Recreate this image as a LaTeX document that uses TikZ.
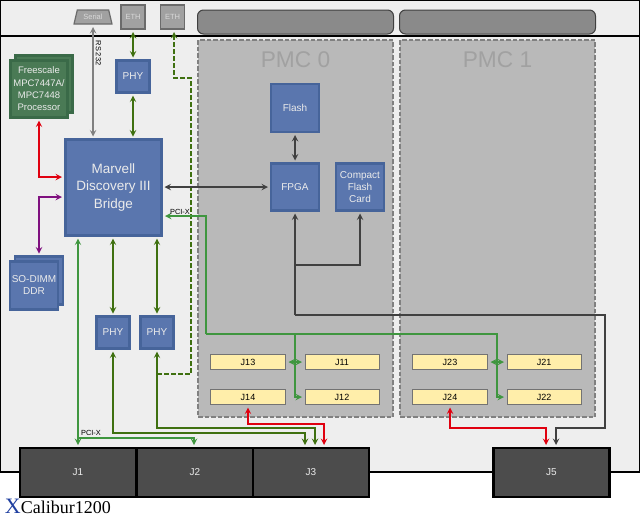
\documentclass[tikz,border=0pt]{standalone}
\usepackage{fontspec}
\usepackage{tikz}
\usetikzlibrary{shapes.geometric}
\setmainfont{Liberation Sans}
\newfontfamily\titlefont{Liberation Serif}
\definecolor{boardgray}{HTML}{EEEEEE}
\definecolor{pmcgray}{HTML}{B9B9B9}
\definecolor{blockblue}{HTML}{5A76AE}
\definecolor{blockedge}{HTML}{46649A}
\definecolor{cpugreen}{HTML}{4A7A55}
\definecolor{cpuedge}{HTML}{3A6A48}
\definecolor{headeryellow}{HTML}{FFEEAA}
\definecolor{olivebus}{HTML}{3F7010}
\definecolor{pcibus}{HTML}{3F963F}
\definecolor{redbus}{HTML}{E0000F}
\definecolor{purplebus}{HTML}{7F107F}
\definecolor{darkbus}{HTML}{404040}
\definecolor{titleblue}{HTML}{1F3FA0}

\begin{document}
\begin{tikzpicture}[x=1pt,y=-1pt,>=stealth,
  every node/.style={inner sep=0pt,outer sep=0pt,align=center},
  main node/.style={rectangle,fill=blockblue,draw=blockedge,line width=2.2pt,text=white!92!black,font=\fontsize{10}{12}\selectfont},
  cpu node/.style={main node,fill=cpugreen,draw=cpuedge,font=\fontsize{9.5}{12.3}\selectfont},
  conn node/.style={rectangle,fill=black!70,draw=black,line width=2.2pt,text=white!92!black,minimum width=116pt,minimum height=49pt,font=\fontsize{10}{12}\selectfont},
  head node/.style={rectangle,fill=headeryellow,draw=black!55,line width=1pt,minimum height=15pt,font=\fontsize{9}{11}\selectfont},
  port node/.style={rectangle,fill=black!37,draw=black!58,line width=1.2pt,text=white!85!black,font=\fontsize{7.5}{9}\selectfont},
  slot node/.style={rectangle,rounded corners=6pt,fill=black!46,draw=black!75,line width=1pt,minimum width=196pt,minimum height=24pt},
  pmc node/.style={rectangle,fill=pmcgray,draw=black!50,dash pattern=on 4.5pt off 2pt,line width=2.4pt,minimum width=195pt,minimum height=377pt},
  pmc text/.style={text=black!37,font=\fontsize{22.7}{26}\selectfont},
  small text/.style={font=\fontsize{7.4}{9}\selectfont,text=black},
  bus/.style={line width=1.8pt,shorten >=3pt,shorten <=3pt},
  eth bus/.style={bus,color=olivebus},
  pci bus/.style={bus,color=pcibus},
  red bus/.style={bus,color=redbus},
  purple bus/.style={bus,color=purplebus},
  dark bus/.style={bus,color=darkbus},
  gray bus/.style={bus,color=black!50}]

  \useasboundingbox (0,0) rectangle (640,517);

  % board
  \draw[fill=boardgray,line width=1.2pt] (0.5,0.5) rectangle (639.5,472);
  \draw[line width=1.2pt] (0.5,36) -- (639.5,36);

  % front panel
  \node[port node,trapezium,trapezium left angle=70,trapezium right angle=70,trapezium stretches=true,minimum width=38pt,minimum height=14pt] (serial) at (93,17) {Serial};
  \node[port node,minimum width=24pt,minimum height=24pt] (eth0) at (133,17) {ETH};
  \node[port node,minimum width=24pt,minimum height=24pt] (eth1) at (172.5,17) {ETH};
  \node[slot node] (slot0) at (295.5,22) {};
  \node[slot node] (slot1) at (497.5,22) {};

  % mezzanine sites
  \node[pmc node] (pmc0) at (295.5,228.5) {};
  \node[pmc node] (pmc1) at (497.5,228.5) {};
  \node[pmc text] (pmc0t) at (295.5,60) {PMC 0};
  \node[pmc text] (pmc1t) at (497.5,60) {PMC 1};

  % blocks
  \node[cpu node,minimum width=57pt,minimum height=57pt] (cpub) at (44,84) {};
  \node[cpu node,minimum width=57pt,minimum height=57pt] (cpu) at (39,89) {Freescale\\MPC7447A/\\MPC7448\\Processor};
  \node[main node,minimum width=96pt,minimum height=96pt,font=\fontsize{13.5}{17.5}\selectfont] (mv) at (113.5,187.5) {Marvell\\Discovery III\\Bridge};
  \node[main node,minimum width=33pt,minimum height=32pt] (phy0) at (133,76.5) {PHY};
  \node[main node,minimum width=48pt,minimum height=48pt] (flash) at (295,108) {Flash};
  \node[main node,minimum width=48pt,minimum height=47pt] (fpga) at (295,187) {FPGA};
  \node[main node,minimum width=48pt,minimum height=47pt] (cf) at (360,187) {Compact\\Flash\\Card};
  \node[main node,minimum width=48pt,minimum height=48pt] (dimmb) at (39,280.5) {};
  \node[main node,minimum width=48pt,minimum height=48pt] (dimm) at (34,285.5) {SO-DIMM\\DDR};
  \node[main node,minimum width=33pt,minimum height=32pt] (phy1) at (113,332.5) {PHY};
  \node[main node,minimum width=33pt,minimum height=32pt] (phy2) at (157,332.5) {PHY};

  % headers
  \node[head node,minimum width=75pt] (j13) at (248,362) {J13};
  \node[head node,minimum width=75pt] (j14) at (248,397) {J14};
  \node[head node,minimum width=74pt] (j11) at (342,362) {J11};
  \node[head node,minimum width=74pt] (j12) at (342,397) {J12};
  \node[head node,minimum width=75pt] (j23) at (450,362) {J23};
  \node[head node,minimum width=75pt] (j24) at (450,397) {J24};
  \node[head node,minimum width=74pt] (j21) at (544,362) {J21};
  \node[head node,minimum width=74pt] (j22) at (544,397) {J22};

  % backplane connectors
  \node[conn node] (j1) at (78,472.5) {J1};
  \node[conn node] (j2) at (195,472.5) {J2};
  \node[conn node] (j3) at (311,472.5) {J3};
  \node[conn node] (j5) at (551.5,472.5) {J5};

  % ends and bends of the buses
  \coordinate (mvcpu) at (65,177);
  \coordinate (mvdimm) at (65,197);
  \coordinate (mvpci) at (162,216);
  \coordinate (pcia) at (206,334);
  \coordinate (pcib) at (295,334);
  \coordinate (pcic) at (497,334);
  \coordinate (pcilo) at (78,438);
  \coordinate (j2pci) at (194,448);
  \coordinate (j3a) at (305,448);
  \coordinate (j3b) at (315,448);
  \coordinate (j3c) at (324,448);
  \coordinate (j5a) at (546,448);
  \coordinate (j5b) at (556,448);
  \coordinate (etha) at (174,78);
  \coordinate (ethb) at (191,374);
  \coordinate (ethc) at (157,374);
  \coordinate (fpgaa) at (295,265);
  \coordinate (fpgab) at (295,315);
  \coordinate (fpgac) at (605,428);

  \draw[gray bus,<->] (serial.south |- mv.north) -- (serial.south);
  \draw[eth bus,<->] (eth0.south) -- (phy0.north);
  \draw[eth bus,<->] (phy0.south) -- (phy0.south |- mv.north);
  \draw[eth bus,dash pattern=on 5pt off 2pt,->,shorten <=0pt] (ethc) -- (ethb) |- (etha) -- (etha |- eth1.south);
  \draw[red bus,<->] (cpu.south) |- (mvcpu);
  \draw[purple bus,<->] (mvdimm) -| (dimmb.north);
  \draw[dark bus,<->] (mv.east |- fpga.west) -- (fpga.west);
  \draw[dark bus,<->] (flash.south) -- (fpga.north);
  \draw[dark bus,->,shorten <=0pt] (fpgaa) -| (cf.south);
  \draw[dark bus,->,shorten <=0pt] (fpgab) -- (fpga.south);
  \draw[dark bus,->,shorten <=0pt] (fpgab) -| (fpgac) -| (j5b);
  \draw[pci bus,->,shorten <=0pt] (pcia) |- (mvpci);
  \draw[pci bus,->,shorten <=0pt] (pcia) -- (pcic) |- (j22.west);
  \draw[pci bus,->,shorten <=0pt] (pcib) |- (j12.west);
  \draw[pci bus,<->] (j13) -- (j11);
  \draw[pci bus,<->] (j23) -- (j21);
  \draw[pci bus,<->] (j1.north |- mv.south) -- (j1.north);
  \draw[pci bus,->,shorten <=0pt] (pcilo) -| (j2pci);
  \draw[eth bus,<->] (phy1.north |- mv.south) -- (phy1.north);
  \draw[eth bus,<->] (phy2.north |- mv.south) -- (phy2.north);
  \draw[eth bus,<->] (phy1.south) |- (305,433) -- (j3a);
  \draw[eth bus,<->] (phy2.south) |- (315,428) -- (j3b);
  \draw[red bus,<->] (j14.south) |- (324,424) -- (j3c);
  \draw[red bus,<->] (j24.south) |- (546,428) -- (j5a);

  % bus labels
  \node[small text,rotate=-90] (rs) at (98.5,53) {RS 232};
  \node[small text] (pciup) at (180,212) {PCI-X};
  \node[small text] (pcidn) at (91,433) {PCI-X};

  % title
  \node[anchor=base west,font=\titlefont\fontsize{18}{20}\selectfont] (title) at (5,513.5) {{\fontsize{22}{24}\selectfont\color{titleblue}X}Calibur1200};
\end{tikzpicture}
\end{document}
